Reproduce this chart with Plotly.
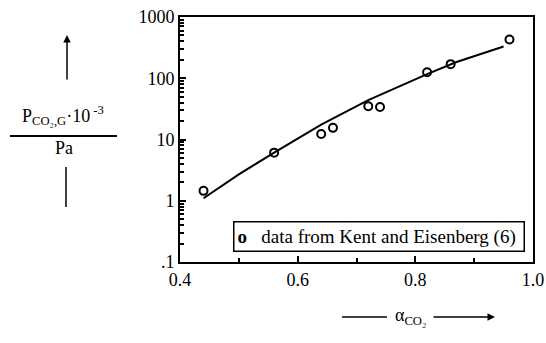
import plotly.graph_objects as go

# measured data (Kent and Eisenberg)
alpha_data = [0.44, 0.56, 0.64, 0.66, 0.72, 0.74, 0.82, 0.86, 0.96]
p_data = [1.45, 6.1, 12.3, 15.5, 35, 34, 125, 170, 430]

# model curve
alpha_fit = [0.44, 0.50, 0.56, 0.64, 0.72, 0.82, 0.87, 0.95]
p_fit = [1.1, 2.7, 6.1, 17.5, 44, 117, 184, 330]

y_tickvals = [0.1, 1, 10, 100, 1000]
y_ticktext = [".1", "1", "10", "100", "1000"]
y_minor = [m * d for d in [0.1, 1, 10, 100] for m in range(2, 10)]
x_tickvals = [0.4, 0.6, 0.8, 1.0]
x_ticktext = ["0.4", "0.6", "0.8", "1.0"]
x_minor = [0.5, 0.7, 0.9]
legend_label = "data from Kent and Eisenberg (6)"

FONT = "Liberation Serif, Times New Roman, Times, serif"
W, H = 546, 343
# plot area in page pixels
PL, PR, PT, PB = 180, 533, 17, 262
L, R, T, B = PL, W - PR, PT, H - PB
pw, ph = PR - PL, PB - PT

def px(x):
    return (x - PL) / pw

def py(y):
    return (PB - y) / ph

fig = go.Figure()
fig.add_trace(go.Scatter(x=alpha_fit, y=p_fit, mode="lines",
                         line=dict(color="black", width=2), showlegend=False))
fig.add_trace(go.Scatter(x=alpha_data, y=p_data, mode="markers",
                         marker=dict(symbol="circle-open", size=8, color="black",
                                     line=dict(width=2)),
                         name=legend_label, showlegend=False))

fig.update_xaxes(range=[0.4, 1.0], tickvals=x_tickvals, ticktext=x_ticktext,
                 ticks="inside", ticklen=6, tickwidth=1.5, tickcolor="black",
                 minor=dict(tickvals=x_minor, ticks="inside", ticklen=4,
                            tickcolor="black", tickwidth=1.5),
                 showline=True, linecolor="black", linewidth=2, mirror=True,
                 showgrid=False, zeroline=False, automargin=False,
                 ticklabeloverflow="allow",
                 tickfont=dict(family=FONT, size=18, color="black"))
fig.update_yaxes(type="log", range=[-1, 3], tickvals=y_tickvals, ticktext=y_ticktext,
                 ticks="inside", ticklen=6, tickwidth=2, tickcolor="black",
                 minor=dict(tickvals=y_minor, ticks="inside", ticklen=4, tickcolor="black",
                            tickwidth=1.5, showgrid=False),
                 showline=True, linecolor="black", linewidth=2, mirror=True,
                 showgrid=False, zeroline=False, automargin=False,
                 ticklabeloverflow="allow",
                 tickfont=dict(family=FONT, size=18, color="black"))

NB = "\u00a0"
annotations = [
    # y label
    dict(x=px(63), y=py(116), xref="paper", yref="paper", showarrow=False,
         xanchor="center", yanchor="middle",
         text="P<sub>CO₂,G</sub>·10<sup> -3</sup>", font=dict(family=FONT, size=18, color="black")),
    dict(x=px(64), y=py(148), xref="paper", yref="paper", showarrow=False,
         xanchor="center", yanchor="middle",
         text="Pa", font=dict(family=FONT, size=18, color="black")),
    dict(x=px(67), y=py(35), ax=0, ay=46, xref="paper", yref="paper",
         axref="pixel", ayref="pixel", showarrow=True, arrowhead=2, arrowsize=1,
         arrowwidth=1.5, arrowcolor="black", text=""),
    # x label
    dict(x=px(410), y=py(316), xref="paper", yref="paper", showarrow=False,
         xanchor="center", yanchor="middle",
         text="α<sub>CO₂</sub>", font=dict(family=FONT, size=18, color="black")),
    dict(x=px(495), y=py(317), ax=-63, ay=0, xref="paper", yref="paper",
         axref="pixel", ayref="pixel", showarrow=True, arrowhead=2, arrowsize=1,
         arrowwidth=1.5, arrowcolor="black", text=""),
    # legend box
    dict(x=px(525), y=py(252), xref="paper", yref="paper", showarrow=False,
         xanchor="right", yanchor="bottom",
         text="<b>o</b>" + NB * 3 + legend_label + NB,
         font=dict(family=FONT, size=19, color="black"),
         bordercolor="black", borderwidth=1.5, borderpad=3, bgcolor="white"),
]
shapes = [
    dict(type="line", xref="paper", yref="paper", x0=px(10), x1=px(117), y0=py(136), y1=py(136),
         line=dict(color="black", width=2)),
    dict(type="line", xref="paper", yref="paper", x0=px(66), x1=px(66), y0=py(167), y1=py(207),
         line=dict(color="black", width=1.5)),
    dict(type="line", xref="paper", yref="paper", x0=px(342), x1=px(387), y0=py(317), y1=py(317),
         line=dict(color="black", width=1.5)),
]

fig.update_layout(
    width=W, height=H, margin=dict(l=L, r=R, t=T, b=B, autoexpand=False),
    paper_bgcolor="white", plot_bgcolor="white",
    font=dict(family=FONT, color="black"),
    annotations=annotations, shapes=shapes,
    showlegend=False,
)
fig.write_html("out.html", config={"displayModeBar": False},
               post_script="document.body.style.margin='0';document.body.style.overflow='hidden';")
